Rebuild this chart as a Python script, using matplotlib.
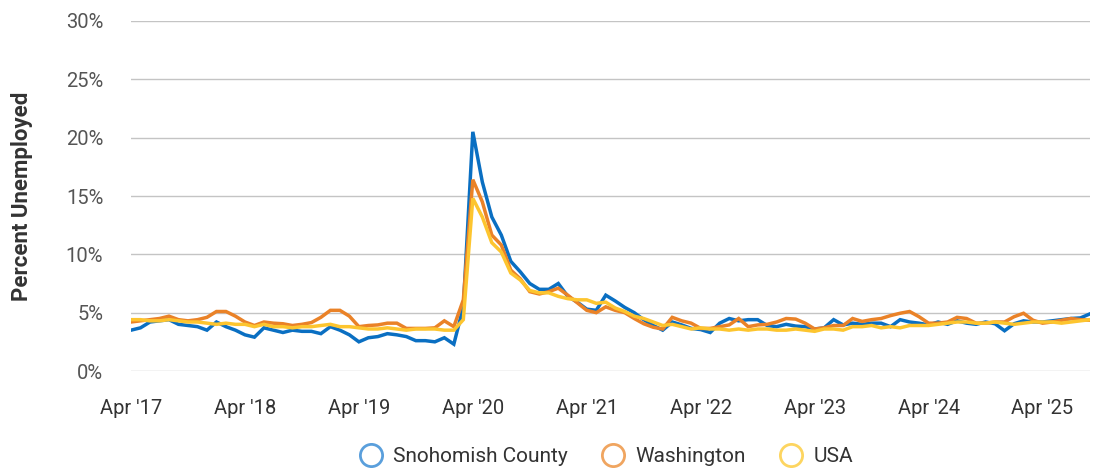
import matplotlib.pyplot as plt
from matplotlib.lines import Line2D
import numpy as np

plt.rcParams['font.family'] = ['Roboto', 'DejaVu Sans']

# monthly unemployment rate, Apr 2017 .. Sep 2025
snohomish = [3.5, 3.7, 4.2, 4.3, 4.4, 4.0, 3.9, 3.8, 3.5, 4.2, 3.8, 3.5, 3.1,
             2.9, 3.7, 3.5, 3.3, 3.5, 3.4, 3.4, 3.2, 3.8, 3.5, 3.1, 2.5,
             2.85, 2.95, 3.2, 3.1, 2.95, 2.6, 2.6, 2.5, 2.85, 2.3, 5.5, 20.5,
             16.2, 13.2, 11.65, 9.4, 8.5, 7.5, 7.0, 7.0, 7.5, 6.4, 5.9, 5.3,
             5.2, 6.5, 6.0, 5.45, 5.0, 4.4, 3.9, 3.5, 4.2, 3.95, 3.65, 3.55,
             3.3, 4.1, 4.5, 4.3, 4.4, 4.4, 3.9, 3.8, 4.0, 3.85, 3.8, 3.6,
             3.7, 4.4, 3.95, 4.1, 4.0, 4.1, 4.1, 3.8, 4.4, 4.2, 4.1, 3.95,
             4.2, 4.0, 4.3, 4.1, 4.0, 4.2, 4.05, 3.45, 4.05, 4.3, 4.2, 4.2,
             4.3, 4.4, 4.5, 4.55, 4.9]
washington = [4.2, 4.3, 4.4, 4.5, 4.7, 4.4, 4.3, 4.4, 4.6, 5.1, 5.1, 4.7, 4.2,
              3.9, 4.2, 4.1, 4.05, 3.9, 4.0, 4.15, 4.6, 5.2, 5.2, 4.7, 3.8,
              3.9, 3.95, 4.1, 4.1, 3.65, 3.65, 3.65, 3.7, 4.3, 3.8, 6.1, 16.4,
              14.5, 11.65, 10.8, 8.65, 7.9, 6.8, 6.6, 6.8, 7.1, 6.5, 5.85, 5.2,
              5.0, 5.5, 5.2, 5.0, 4.5, 4.05, 3.75, 3.6, 4.6, 4.3, 4.1, 3.65,
              3.65, 3.8, 3.95, 4.5, 3.8, 3.95, 4.0, 4.2, 4.5, 4.45, 4.1, 3.6,
              3.7, 3.9, 3.9, 4.5, 4.25, 4.4, 4.5, 4.75, 4.95, 5.1, 4.65, 4.1,
              4.1, 4.2, 4.6, 4.5, 4.1, 4.1, 4.2, 4.2, 4.65, 4.95, 4.35, 4.1,
              4.2, 4.35, 4.5, 4.4, 4.35]
usa = [4.4, 4.4, 4.3, 4.3, 4.4, 4.3, 4.2, 4.2, 4.1,
       4.0, 4.1, 4.0, 4.0, 3.8, 4.0, 3.8, 3.8, 3.7, 3.8, 3.8, 3.9,
       4.0, 3.8, 3.8, 3.7, 3.6, 3.6, 3.7, 3.6, 3.5, 3.6, 3.6, 3.6,
       3.5, 3.5, 4.4, 14.8, 13.2, 11.0, 10.2, 8.4, 7.8, 6.9, 6.7, 6.7,
       6.4, 6.2, 6.1, 6.1, 5.8, 5.9, 5.4, 5.1, 4.7, 4.5, 4.2, 3.9,
       4.0, 3.8, 3.6, 3.7, 3.6, 3.6, 3.5, 3.6, 3.5, 3.6, 3.6, 3.5,
       3.5, 3.6, 3.5, 3.4, 3.6, 3.6, 3.5, 3.8, 3.8, 3.9, 3.7, 3.8,
       3.7, 3.9, 3.9, 3.9, 4.0, 4.1, 4.2, 4.2, 4.1, 4.1, 4.2, 4.1,
       4.0, 4.1, 4.2, 4.2, 4.2, 4.1, 4.2, 4.3, 4.4]

tick_pos = [0, 12, 24, 36, 48, 60, 72, 84, 96]
tick_labels = ["Apr '17", "Apr '18", "Apr '19", "Apr '20", "Apr '21",
               "Apr '22", "Apr '23", "Apr '24", "Apr '25"]
names = ['Snohomish County', 'Washington', 'USA']
colors = ['#0a6fc2', '#ea8227', '#fdc52f']
legend_colors = ['#5a9fdc', '#f0a560', '#fdd560']

x = np.arange(len(usa))

fig = plt.figure(figsize=(10.97, 4.69), dpi=100)
ax = fig.add_axes([131 / 1097, 98 / 469, 959 / 1097, 350 / 469])

for ys, c in zip([snohomish, washington, usa], colors):
    ax.plot(x, ys, color=c, lw=2.5, solid_joinstyle='miter')

ax.set_xlim(0, len(usa) - 1)
ax.set_ylim(0, 30)
ax.set_yticks(range(0, 31, 5))
ax.set_yticklabels([f'{v}%' for v in range(0, 31, 5)])
ax.set_xticks(tick_pos)
ax.set_xticklabels(tick_labels)
ax.grid(axis='y', color='#c4c4c4', lw=1)
ax.set_axisbelow(True)
for s in ax.spines.values():
    s.set_visible(False)
ax.tick_params(axis='y', length=0, pad=20, labelsize=14.5, labelcolor='#555555')
ax.tick_params(axis='x', length=0, pad=20, labelsize=14.5, labelcolor='#333333')
ax.set_ylabel('Percent Unemployed', fontsize=16, fontweight='bold', color='#333333')
ax.yaxis.set_label_coords(-0.102, 0.5)

handles = [Line2D([], [], ls='none', marker='o', ms=16, mfc='none', mec=c, mew=2)
           for c in legend_colors]
fig.legend(handles, names, loc='center', bbox_to_anchor=(0.552, 0.027), ncol=3,
           frameon=False, fontsize=15, handlelength=1.2, handletextpad=0.45,
           columnspacing=1.6, labelcolor='#333333')

fig.savefig('out.png', dpi=100)
